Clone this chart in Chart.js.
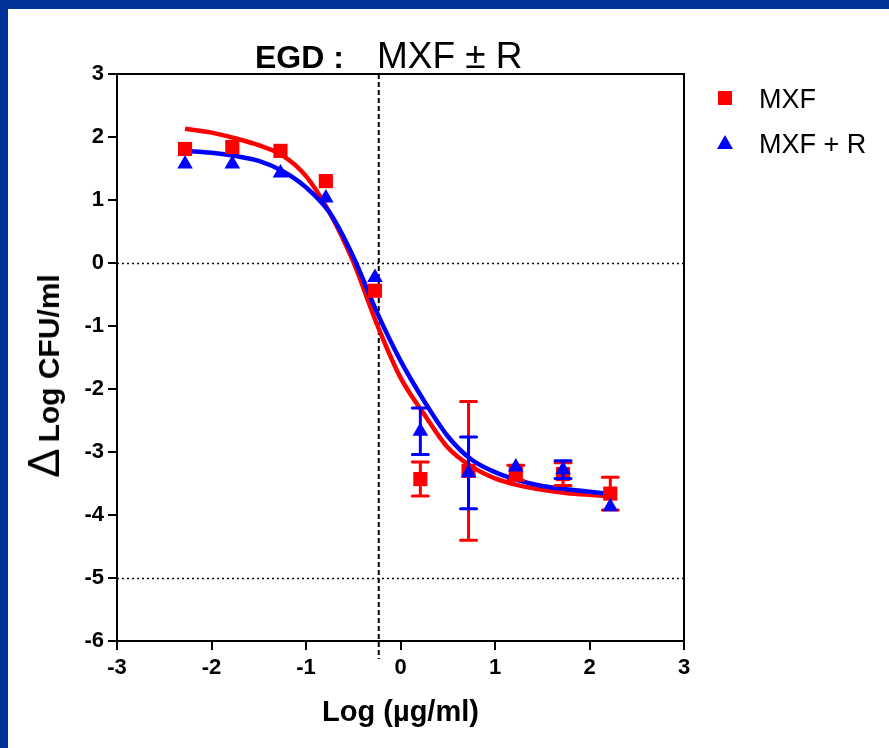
<!DOCTYPE html>
<html>
<head>
<meta charset="utf-8">
<script src="https://cdn.jsdelivr.net/npm/chart.js@4"></script>
<style>
  html, body { margin: 0; padding: 0; background: #fff; }
  #wrap { position: relative; width: 889px; height: 748px; overflow: hidden; background: #fff; }
  #frame { position: absolute; left: 0; top: 0; width: 889px; height: 748px; box-sizing: border-box;
           border-top: 9px solid #003399; border-left: 8px solid #003399; }
  #c { position: absolute; left: 0; top: 0; }
  .t { position: absolute; font-family: "Liberation Sans", Arial, sans-serif; color: #000; white-space: nowrap; }
  #title { left: 255px; top: 37px; line-height: 1; }
  #title .b { font-weight: bold; font-size: 32px; }
  #title .r { font-size: 37px; margin-left: 33px; }
  #ytitle { left: 44px; top: 376px; transform: translate(-50%, -50%) rotate(-90deg); line-height: 1; }
  #ytitle .d { font-size: 44px; }
  #ytitle .b { font-weight: bold; font-size: 30px; margin-left: 6px; }
  .leg { font-size: 27px; }
  .sq { position: absolute; width: 14px; height: 14px; background: #ff0000; }
  .tri { position: absolute; width: 0; height: 0; border-left: 8px solid transparent; border-right: 8px solid transparent; border-bottom: 14px solid #0000ff; }
</style>
</head>
<body>
<div id="wrap">
  <div id="frame"></div>
  <canvas id="c" width="889" height="748"></canvas>
  <div id="title" class="t"><span class="b">EGD :</span><span class="r">MXF ± R</span></div>
  <div id="ytitle" class="t"><span class="d">Δ</span><span class="b">Log CFU/ml</span></div>
  <div class="sq" style="left:718px; top:91px;"></div>
  <div class="t leg" style="left:759px; top:84px;">MXF</div>
  <div class="tri" style="left:717px; top:135px;"></div>
  <div class="t leg" style="left:759px; top:129px;">MXF + R</div>
</div>
<script>
// ---- data ----
const concLog = [-2.28, -1.78, -1.27, -0.79, -0.27, 0.21, 0.72, 1.22, 1.72, 2.22];
const mxfMean = [1.81, 1.84, 1.78, 1.30, -0.44, -3.43, -3.30, -3.33, -3.35, -3.66];
const mxfErr  = [0, 0, 0, 0, 0, 0.27, 1.10, 0.12, 0.18, 0.26];
const mxfRMean = [1.57, 1.57, 1.43, 1.03, -0.23, -2.67, -3.33, -3.24, -3.28, -3.87];
const mxfRErr  = [0, 0, 0, 0, 0, 0.37, 0.57, 0, 0.14, 0];

const fitX = [-2.28, -2.0, -1.75, -1.5, -1.25, -1.0, -0.75, -0.5, -0.25, 0, 0.25, 0.5, 0.75, 1.0, 1.25, 1.5, 1.75, 2.0, 2.22];
const fitMxf  = [2.13, 2.07, 1.98, 1.87, 1.71, 1.38, 0.80, 0.02, -0.97, -1.82, -2.40, -2.93, -3.23, -3.42, -3.53, -3.60, -3.65, -3.68, -3.70];
const fitMxfR = [1.78, 1.75, 1.70, 1.62, 1.46, 1.20, 0.80, 0.10, -0.78, -1.55, -2.19, -2.75, -3.12, -3.32, -3.45, -3.54, -3.59, -3.63, -3.67];

const xTicks = [-3, -2, -1, 0, 1, 2, 3];
const yTicks = [3, 2, 1, 0, -1, -2, -3, -4, -5, -6];
const hRefLines = [0, -5];
const vRefLines = [-0.23];

const RED = '#ff0000', BLUE = '#0000ff';
const pts = (xs, ys) => xs.map((x, i) => ({ x: x, y: ys[i] }));

const refPlugin = {
  id: 'refs',
  beforeDatasetsDraw(chart) {
    const { ctx, chartArea: a, scales: { x, y } } = chart;
    ctx.save();
    ctx.strokeStyle = '#000';
    ctx.lineWidth = 1.5;
    ctx.setLineDash([2, 3]);
    hRefLines.forEach(v => {
      const py = Math.round(y.getPixelForValue(v)) + 0.5;
      ctx.beginPath(); ctx.moveTo(a.left, py); ctx.lineTo(a.right, py); ctx.stroke();
    });
    ctx.lineWidth = 2;
    ctx.setLineDash([5, 3]);
    vRefLines.forEach(v => {
      const px = x.getPixelForValue(v);
      ctx.beginPath(); ctx.moveTo(px, a.top); ctx.lineTo(px, a.bottom + 18); ctx.stroke();
    });
    ctx.setLineDash([]);
    ctx.lineWidth = 2;
    ctx.beginPath();
    ctx.moveTo(a.left, a.top); ctx.lineTo(a.right, a.top); ctx.lineTo(a.right, a.bottom);
    ctx.stroke();
    ctx.restore();
  }
};

const errPlugin = {
  id: 'errbars',
  beforeDatasetDraw(chart, args) {
    const ds = chart.data.datasets[args.index];
    if (!ds.errors) return;
    const { ctx, scales: { y } } = chart;
    const meta = args.meta;
    ctx.save();
    ctx.strokeStyle = ds.backgroundColor;
    ctx.lineWidth = 3;
    ctx.lineCap = 'round';
    meta.data.forEach((el, i) => {
      const e = ds.errors[i];
      if (!e) return;
      const v = ds.data[i].y;
      const top = y.getPixelForValue(v + e), bot = y.getPixelForValue(v - e);
      const px = el.x, hw = 8;
      ctx.beginPath();
      ctx.moveTo(px, top); ctx.lineTo(px, bot);
      ctx.moveTo(px - hw, top); ctx.lineTo(px + hw, top);
      ctx.moveTo(px - hw, bot); ctx.lineTo(px + hw, bot);
      ctx.stroke();
    });
    ctx.restore();
  }
};

const tickFont = { family: '"Liberation Sans", Arial, sans-serif', size: 22, weight: 'bold' };

new Chart(document.getElementById('c'), {
  type: 'scatter',
  data: {
    datasets: [
      { label: 'MXF + R', data: pts(concLog, mxfRMean), errors: mxfRErr, backgroundColor: BLUE, borderColor: BLUE,
        pointStyle: 'triangle', pointRadius: 9, pointBorderWidth: 0, showLine: false, order: 1 },
      { label: 'MXF', data: pts(concLog, mxfMean), errors: mxfErr, backgroundColor: RED, borderColor: RED,
        pointStyle: 'rect', pointRadius: 10, pointBorderWidth: 0, showLine: false, order: 2 },
      { label: 'fit MXF + R', data: pts(fitX, fitMxfR), borderColor: BLUE, backgroundColor: BLUE, showLine: true,
        pointRadius: 0, borderWidth: 4.5, cubicInterpolationMode: 'monotone', order: 3 },
      { label: 'fit MXF', data: pts(fitX, fitMxf), borderColor: RED, backgroundColor: RED, showLine: true,
        pointRadius: 0, borderWidth: 4.5, cubicInterpolationMode: 'monotone', order: 4 }
    ]
  },
  options: {
    responsive: false,
    animation: false,
    devicePixelRatio: 1,
    layout: { padding: { top: 74, right: 205, left: 0, bottom: 0 } },
    plugins: { legend: { display: false }, tooltip: { enabled: false }, title: { display: false } },
    scales: {
      x: {
        type: 'linear', min: -3, max: 3,
        afterBuildTicks: s => { s.ticks = xTicks.map(v => ({ value: v })); },
        afterFit: s => { s.height = 107; },
        ticks: { color: '#000', font: tickFont, padding: 5, maxRotation: 0, callback: v => String(v) },
        grid: { drawOnChartArea: false, drawTicks: true, tickLength: 9, color: '#000', lineWidth: 2 },
        border: { display: true, color: '#000', width: 2 },
        title: { display: true, text: 'Log (µg/ml)', color: '#000', padding: { top: 0, bottom: 18 },
                 font: { family: '"Liberation Sans", Arial, sans-serif', size: 29, weight: 'bold' } }
      },
      y: {
        type: 'linear', min: -6, max: 3,
        afterBuildTicks: s => { s.ticks = yTicks.map(v => ({ value: v })); },
        afterFit: s => { s.width = 117; },
        ticks: { color: '#000', font: tickFont, padding: 4, callback: v => String(v) },
        grid: { drawOnChartArea: false, drawTicks: true, tickLength: 9, color: '#000', lineWidth: 2 },
        border: { display: true, color: '#000', width: 2 }
      }
    }
  },
  plugins: [refPlugin, errPlugin]
});
</script>
</body>
</html>
